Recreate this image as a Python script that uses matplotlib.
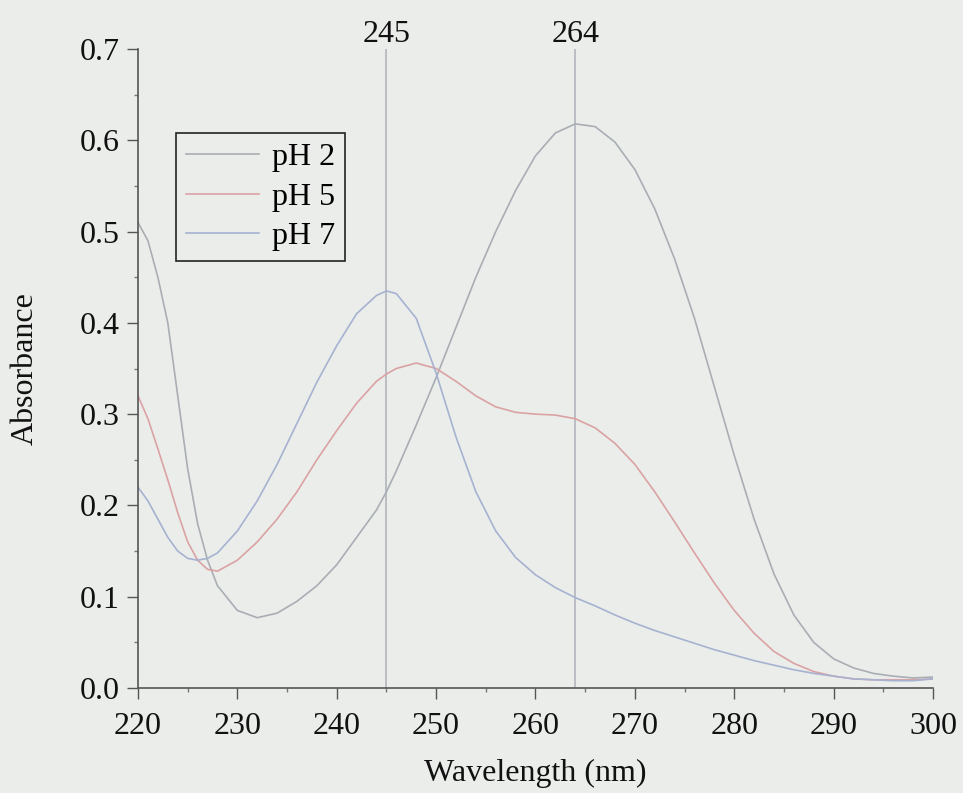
import matplotlib
matplotlib.use('Agg')
import matplotlib.pyplot as plt
from matplotlib.ticker import MultipleLocator, FormatStrFormatter

# wavelengths (nm) and absorbance
wl = [220, 221, 222, 223, 224, 225, 226, 227, 228, 230, 232, 234, 236, 238, 240, 242, 244, 245, 246, 248,
      250, 252, 254, 256, 258, 260, 262, 264, 266, 268, 270, 272, 274, 276, 278, 280, 282, 284, 286, 288,
      290, 292, 294, 296, 298, 300]
ph2 = [0.510, 0.490, 0.450, 0.400, 0.320, 0.240, 0.180, 0.140, 0.112, 0.085, 0.077, 0.082, 0.095, 0.112, 0.135, 0.165, 0.195, 0.215, 0.238, 0.288,
       0.340, 0.395, 0.450, 0.500, 0.545, 0.583, 0.608, 0.618, 0.615, 0.598, 0.568, 0.525, 0.470, 0.405, 0.330, 0.255, 0.185, 0.125, 0.080, 0.050,
       0.032, 0.022, 0.016, 0.013, 0.011, 0.012]
ph5 = [0.320, 0.295, 0.262, 0.228, 0.192, 0.160, 0.140, 0.130, 0.128, 0.140, 0.160, 0.185, 0.215, 0.250, 0.282, 0.312, 0.336, 0.344, 0.350, 0.356,
       0.350, 0.336, 0.320, 0.308, 0.302, 0.300, 0.299, 0.295, 0.285, 0.268, 0.245, 0.215, 0.182, 0.148, 0.115, 0.085, 0.060, 0.040, 0.027, 0.018,
       0.013, 0.010, 0.009, 0.009, 0.009, 0.010]
ph7 = [0.220, 0.205, 0.185, 0.165, 0.150, 0.142, 0.140, 0.142, 0.148, 0.172, 0.205, 0.245, 0.290, 0.335, 0.375, 0.410, 0.430, 0.435, 0.432, 0.405,
       0.345, 0.275, 0.215, 0.172, 0.143, 0.124, 0.110, 0.099, 0.090, 0.080, 0.071, 0.063, 0.056, 0.049, 0.042, 0.036, 0.030, 0.025, 0.020, 0.016,
       0.013, 0.010, 0.009, 0.008, 0.008, 0.010]
peaks = [245, 264]
series_labels = ['pH 2', 'pH 5', 'pH 7']

bg = '#ebedeb'
fs = 23
plt.rcParams['font.family'] = ['Liberation Serif', 'DejaVu Serif']

fig = plt.figure(figsize=(9.63, 7.93), dpi=100, facecolor=bg)
ax = fig.add_axes([0.1433, 0.1324, 0.8255, 0.8058])
ax.set_facecolor(bg)

l2, = ax.plot(wl, ph2, color='#a9aeb4', linewidth=1.2)
l5, = ax.plot(wl, ph5, color='#dba2a4', linewidth=1.2)
l7, = ax.plot(wl, ph7, color='#a6b2d0', linewidth=1.2)

for p in peaks:
    ax.axvline(p, color='#b2b5bd', linewidth=1.2, zorder=0)
    ax.annotate(str(p), xy=(p, 1), xycoords=('data', 'axes fraction'), xytext=(0, 5),
                textcoords='offset points', ha='center', va='baseline', fontsize=fs, color='#111111')

ax.set_xlim(220, 300)
ax.set_ylim(0, 0.7)
ax.xaxis.set_major_locator(MultipleLocator(10))
ax.xaxis.set_minor_locator(MultipleLocator(5))
ax.yaxis.set_major_locator(MultipleLocator(0.1))
ax.yaxis.set_minor_locator(MultipleLocator(0.05))
ax.yaxis.set_major_formatter(FormatStrFormatter('%.1f'))

ax.spines['right'].set_visible(False)
ax.spines['top'].set_visible(False)
for s in ['left', 'bottom']:
    ax.spines[s].set_color('#555555')
    ax.spines[s].set_linewidth(1.2)
ax.tick_params(which='major', direction='out', length=8, width=1, colors='#555555', labelcolor='#111111', labelsize=fs)
ax.tick_params(axis='x', which='major', pad=9)
ax.tick_params(axis='y', which='major', pad=5)
ax.tick_params(which='minor', direction='out', length=3, width=1, colors='#777777')

ax.set_xlabel('Wavelength (nm)', fontsize=fs, color='#111111', labelpad=13)
ax.set_ylabel('Absorbance', fontsize=fs, color='#111111', labelpad=29)

leg = ax.legend([l2, l5, l7], series_labels, loc='upper left', bbox_to_anchor=(0.048, 0.868),
                fontsize=fs, frameon=True, fancybox=False, handlelength=2.3, handletextpad=0.4,
                borderpad=0.3, labelspacing=0.32, borderaxespad=0)
leg.get_frame().set_edgecolor('#222222')
leg.get_frame().set_facecolor(bg)
leg.get_frame().set_linewidth(1.2)
leg.get_frame().set_alpha(1)

plt.savefig('out.png', dpi=100, facecolor=bg)
